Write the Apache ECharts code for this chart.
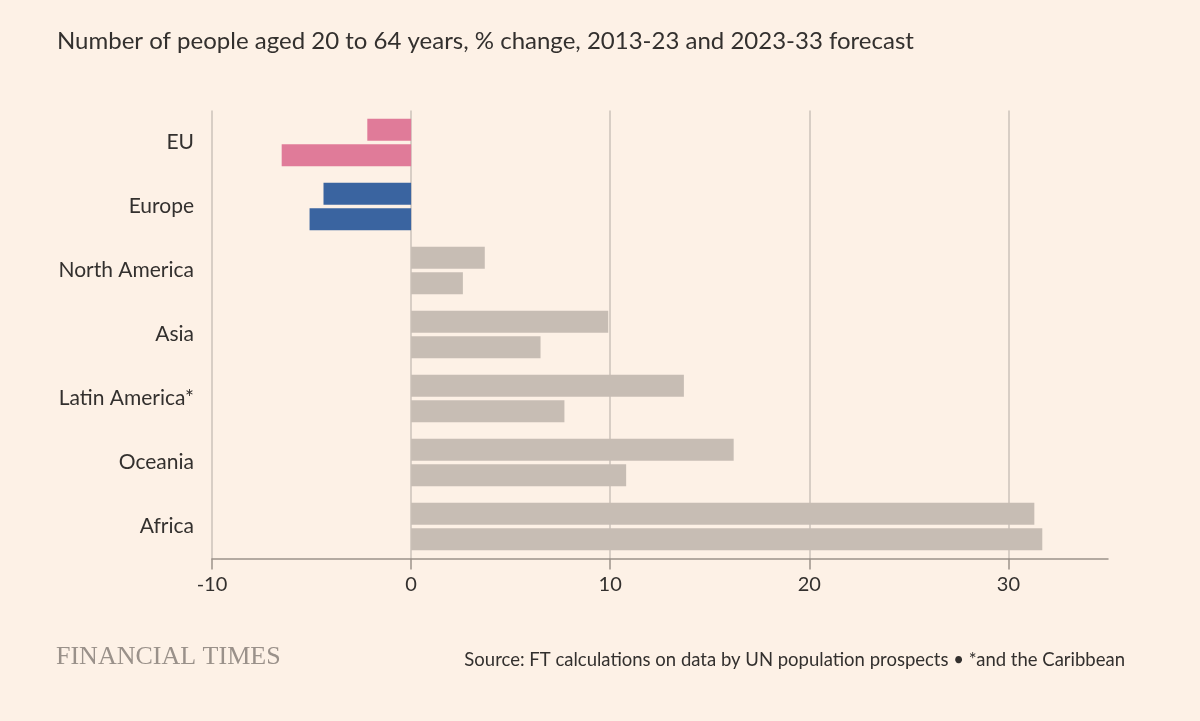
<!DOCTYPE html>
<html>
<head>
<meta charset="utf-8">
<title>Working-age population change</title>
<script src="https://cdn.jsdelivr.net/npm/echarts@6/dist/echarts.min.js"></script>
<style>
  html, body { margin: 0; padding: 0; background: #fdf1e6; }
  #chart { width: 1200px; height: 721px; }
</style>
</head>
<body>
<div id="chart"></div>
<script>
// regions, top to bottom
var regions = ['EU', 'Europe', 'North America', 'Asia', 'Latin America*', 'Oceania', 'Africa'];
// % change in people aged 20-64
var change2013_23 = [-2.2, -4.4, 3.7, 9.9, 13.7, 16.2, 31.3];
var change2023_33 = [-6.5, -5.1, 2.6, 6.5, 7.7, 10.8, 31.7];
var xTicks = [-10, 0, 10, 20, 30];

var font = 'Lato, "Noto Sans", sans-serif';
var textColor = '#33302e';

// EU and Europe are picked out, the rest grey
function barColor(params) {
    if (params.name === 'EU') return '#e07b99';
    if (params.name === 'Europe') return '#3a64a0';
    return '#c7bdb4';
}

var myChart = echarts.init(document.getElementById('chart'));

var option = {
    backgroundColor: '#fdf1e6',
    animation: false,
    title: [{
        text: 'Number of people aged 20 to 64 years, % change, 2013-23 and 2023-33 forecast',
        left: 57,
        top: 29,
        padding: 0,
        textStyle: { fontFamily: font, fontSize: 24, fontWeight: 'normal', color: textColor }
    }, {
        text: 'FINANCIAL TIMES',
        left: 56,
        top: 644,
        padding: 0,
        textStyle: { fontFamily: '"Liberation Serif", "DejaVu Serif", serif', fontSize: 26, fontWeight: 'normal', color: '#9a918a' }
    }, {
        text: 'Source: FT calculations on data by UN population prospects \u2022 *and the Caribbean',
        right: 75,
        top: 651,
        padding: 0,
        textStyle: { fontFamily: font, fontSize: 18.5, fontWeight: 'normal', color: textColor }
    }],
    grid: {
        left: 212,
        right: 92,
        top: 110.5,
        bottom: 162.5,
        containLabel: false
    },
    xAxis: {
        type: 'value',
        min: -10,
        max: 35,
        interval: 10,
        axisLine: { show: true, lineStyle: { color: '#9c938b', width: 1.5 } },
        axisTick: { show: true, customValues: xTicks, length: 11, lineStyle: { color: '#9c938b', width: 1.5 } },
        axisLabel: {
            customValues: xTicks,
            margin: 16,
            fontFamily: font,
            fontSize: 20,
            color: textColor
        },
        splitLine: { show: true, lineStyle: { color: '#cbc2ba', width: 1.5 } }
    },
    yAxis: {
        type: 'category',
        inverse: true,
        data: regions,
        axisLine: { show: false },
        axisTick: { show: false },
        axisLabel: {
            margin: 18,
            fontFamily: font,
            fontSize: 21,
            color: textColor
        }
    },
    series: [{
        name: '2013-23',
        type: 'bar',
        data: change2013_23,
        barWidth: 22,
        barGap: '16%',
        itemStyle: { color: barColor }
    }, {
        name: '2023-33 forecast',
        type: 'bar',
        data: change2023_33,
        barWidth: 22,
        barGap: '16%',
        itemStyle: { color: barColor }
    }]
};

myChart.setOption(option);
</script>
</body>
</html>
